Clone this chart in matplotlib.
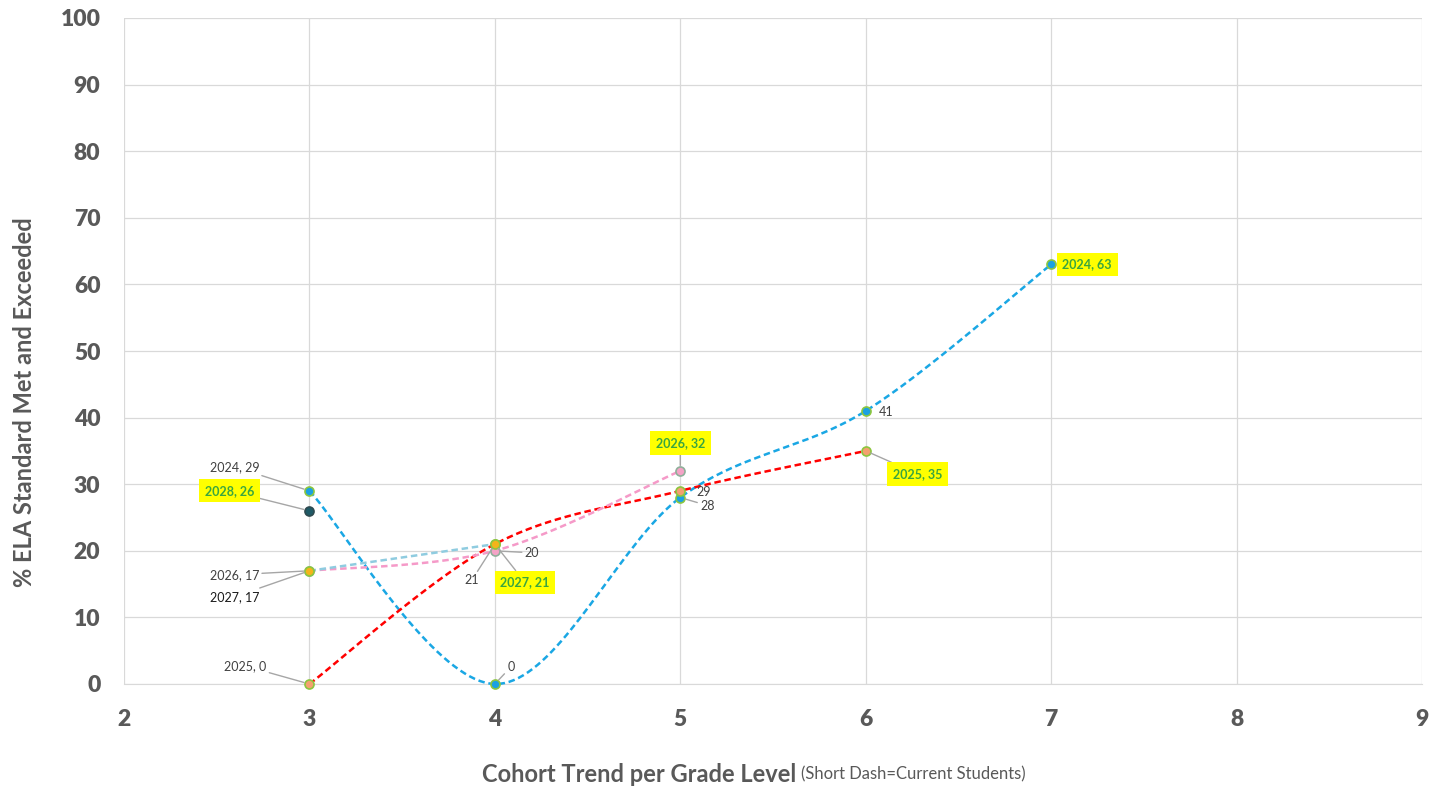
import numpy as np
import matplotlib.pyplot as plt

plt.rcParams['font.family'] = ['Lato', 'DejaVu Sans']

# cohort results by grade level (graduating-year cohorts)
grades_2024 = [3, 4, 5, 6, 7]
ela_2024 = [29, 0, 28, 41, 63]
grades_2025 = [3, 4, 5, 6]
ela_2025 = [0, 21, 29, 35]
grades_2026 = [3, 4, 5]
ela_2026 = [17, 20, 32]
grades_2027 = [3, 4]
ela_2027 = [17, 21]
grades_2028 = [3]
ela_2028 = [26]

x_ticks = [2, 3, 4, 5, 6, 7, 8, 9]
y_ticks = [0, 10, 20, 30, 40, 50, 60, 70, 80, 90, 100]


def smooth(xs, ys, n=40):
    # cubic bezier through the points, control points like a spreadsheet "smoothed line"
    xs = np.asarray(xs, float)
    ys = np.asarray(ys, float)
    if len(xs) < 3:
        return xs, ys
    px = np.concatenate([[xs[0]], xs, [xs[-1]]])
    py = np.concatenate([[ys[0]], ys, [ys[-1]]])
    outx, outy = [], []
    t = np.linspace(0, 1, n)
    for i in range(1, len(px) - 2):
        p0 = np.array([px[i], py[i]])
        p3 = np.array([px[i + 1], py[i + 1]])
        c1 = p0 + (np.array([px[i + 1], py[i + 1]]) - np.array([px[i - 1], py[i - 1]])) / 6
        c2 = p3 - (np.array([px[i + 2], py[i + 2]]) - np.array([px[i], py[i]])) / 6
        b = ((1 - t) ** 3)[:, None] * p0 + (3 * (1 - t) ** 2 * t)[:, None] * c1 \
            + (3 * (1 - t) * t ** 2)[:, None] * c2 + (t ** 3)[:, None] * p3
        outx.extend(b[:, 0])
        outy.extend(b[:, 1])
    return np.array(outx), np.array(outy)


fig = plt.figure(figsize=(14.35, 7.91), dpi=100)
ax = fig.add_axes([124 / 1435, 1 - 684 / 791, (1422 - 124) / 1435, (684 - 18) / 791])

series = [
    (grades_2024, ela_2024, '#1AA7E4', '#1BA1E2', '#8CC63F'),
    (grades_2025, ela_2025, '#FF0000', '#F4A070', '#8CC63F'),
    (grades_2026, ela_2026, '#F59AC8', '#F4A3C6', '#8FB09A'),
    (grades_2027, ela_2027, '#8FCCE0', '#F4B41A', '#8CC63F'),
    (grades_2028, ela_2028, '#1F5A66', '#1F5A66', '#2E4A50'),
]

for k, (gx, gy, lc, mf, me) in enumerate(series):
    if len(gx) > 1:
        sx, sy = smooth(gx, gy)
        ax.plot(sx, sy, color=lc, lw=1.8, dashes=(2.6, 1.5), zorder=3 + k, clip_on=False)
    ax.plot(gx, gy, 'o', ms=6.5, mfc=mf, mec=me, mew=1.2, zorder=10 + k, clip_on=False)

# data labels: (x, y, text, dx px, dy px, highlighted, leader)
labels = [
    (3, 29, '2024, 29', -75, 24, False, True),
    (3, 26, '2028, 26', -80, 20, True, True),
    (3, 17, '2026, 17', -75, -4, False, True),
    (3, 17, '2027, 17', -75, -26, False, True),
    (3, 0, '2025, 0', -64, 18, False, True),
    (4, 0, '0', 16, 17, False, True),
    (4, 21, '21', -23, -36, False, True),
    (4, 20, '20', 37, -2, False, True),
    (4, 21, '2027, 21', 30, -38, True, True),
    (5, 32, '2026, 32', 0, 28, True, True),
    (5, 29, '29', 23, -1, False, False),
    (5, 28, '28', 27, -8, False, True),
    (6, 41, '41', 20, -1, False, False),
    (6, 35, '2025, 35', 52, -23, True, True),
    (7, 63, '2024, 63', 36, 0, True, False),
]

for x, y, txt, dx, dy, hl, leader in labels:
    kw = dict(xy=(x, y), xytext=(dx, dy), textcoords='offset pixels',
              ha='center', va='center', fontsize=9, zorder=20, annotation_clip=False)
    if hl:
        kw.update(color='#3AA63F', fontweight='bold',
                  bbox=dict(boxstyle='square,pad=0.45', fc='#FFFF00', ec='none'))
    else:
        kw.update(color='#1A1A1A' if txt == '2027, 17' else '#404040')
    if leader:
        kw['arrowprops'] = dict(arrowstyle='-', color='#A6A6A6', lw=1.0,
                                shrinkA=0, shrinkB=4)
    ax.annotate(txt, **kw)

ax.set_xlim(2, 9)
ax.set_ylim(0, 100)
ax.set_xticks(x_ticks)
ax.set_yticks(y_ticks)
ax.grid(True, color='#D9D9D9', lw=0.9)
ax.set_axisbelow(True)
for s in ax.spines.values():
    s.set_visible(False)
ax.spines['bottom'].set_visible(True)
ax.spines['bottom'].set_color('#D9D9D9')
ax.tick_params(length=0, labelsize=16.5, labelcolor='#595959')
ax.tick_params(axis='x', pad=18)
ax.tick_params(axis='y', pad=17)
for lab in ax.get_xticklabels() + ax.get_yticklabels():
    lab.set_fontweight('heavy')

fig.text(25 / 1435, 1 - 402 / 791, '% ELA Standard Met and Exceeded', rotation=90,
         ha='center', va='center', fontsize=17, fontweight='bold', color='#595959')
fig.text(796 / 1435, 1 - 774 / 791, 'Cohort Trend per Grade Level', ha='right', va='center',
         fontsize=17, fontweight='bold', color='#595959')
fig.text(801 / 1435, 1 - 774 / 791, '(Short Dash=Current Students)', ha='left', va='center',
         fontsize=12, color='#595959')

fig.savefig('out.png', dpi=100, facecolor='white')
